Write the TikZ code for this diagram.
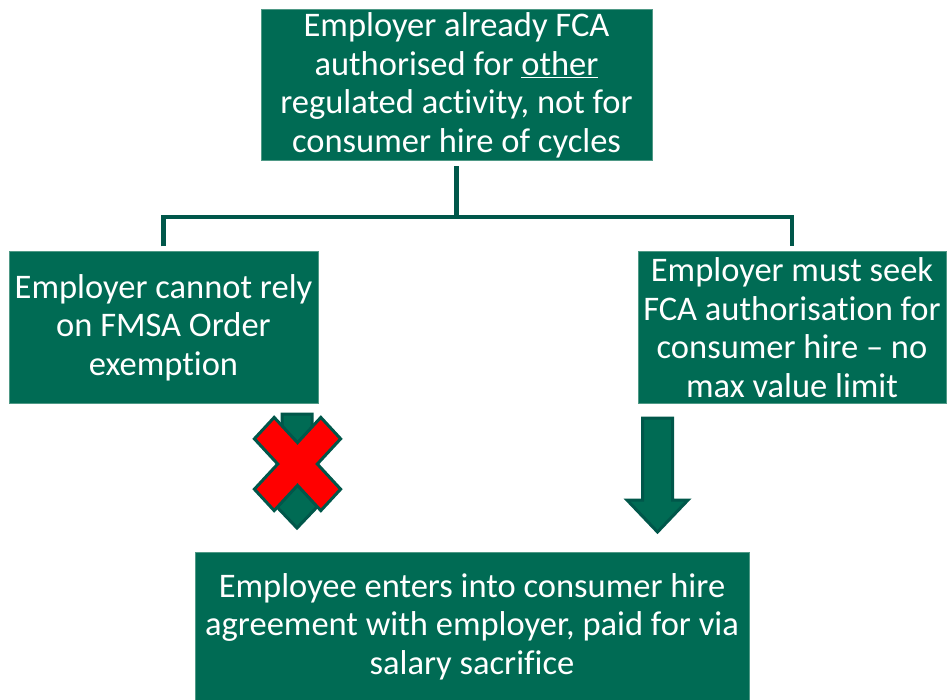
\documentclass[tikz,border=0pt]{standalone}
\usepackage{fontspec}
\setmainfont{Carlito}[Ligatures=NoCommon]
\usepackage{xcolor}
\definecolor{boxgreen}{HTML}{006B54}
\definecolor{boxedge}{HTML}{4F9986}
\definecolor{linegreen}{HTML}{00574A}
\definecolor{crossred}{HTML}{FF0000}

\tikzset{
  stepbox/.style={fill=boxgreen, draw=boxedge, line width=1pt, text=white,
    align=center, inner sep=0pt, font=\fontsize{34.5}{38.5}\selectfont},
  conn/.style={draw=linegreen, line width=4.5pt, line join=miter},
  blockarr/.style={fill=boxgreen, draw=linegreen, line width=3pt, line join=miter},
  pics/downarr/.style={code={
    \draw[blockarr] (-15,0) -- (15,0) -- (15,82) -- (30.5,82) -- (0,114)
      -- (-30.5,82) -- (-15,82) -- cycle;
  }}
}

\begin{document}
\begin{tikzpicture}[x=1pt,y=-1pt]
   \useasboundingbox (0,0) rectangle (949,700);

   % boxes
   \node[stepbox, minimum width=391pt, minimum height=151pt] (top) at (456.5,85.5)
     {Employer already FCA\\ authorised for \underline{other}\\ regulated activity, not for\\ consumer hire of cycles};
   \node[stepbox, minimum width=309pt, minimum height=151pt] (left) at (163.5,327.5)
     {Employer cannot rely\\ on FMSA Order\\ exemption};
   \node[stepbox, minimum width=308pt, minimum height=151pt] (right) at (792,327.5)
     {Employer must seek\\ FCA authorisation for\\ consumer hire -- no\\ max value limit};
   \node[stepbox, minimum width=554pt, minimum height=148pt] (bottom) at (472,626.5)
     {Employee enters into consumer hire\\ agreement with employer, paid for via\\ salary sacrifice};

   % tree connector
   \coordinate (fork) at (456.5,217);
   \draw[conn] ([yshift=-5pt]top.south) -- (fork);
   \draw[conn] ([yshift=5pt]left.north) |- (fork) -| ([yshift=5pt]right.north);

   % arrows
   \pic at (297,414) {downarr};
   \pic at (657.5,418) {downarr};

   % red cross over the left arrow
   \begin{scope}[shift={(297.5,464)}, yscale=1.08, rotate=45]
     \draw[fill=crossred, draw=linegreen, line width=3pt, line join=miter]
       (-14,47) -- (14,47) -- (14,14) -- (47,14) -- (47,-14)
       -- (14,-14) -- (14,-47) -- (-14,-47) -- (-14,-14)
       -- (-47,-14) -- (-47,14) -- (-14,14) -- cycle;
   \end{scope}
\end{tikzpicture}
\end{document}
